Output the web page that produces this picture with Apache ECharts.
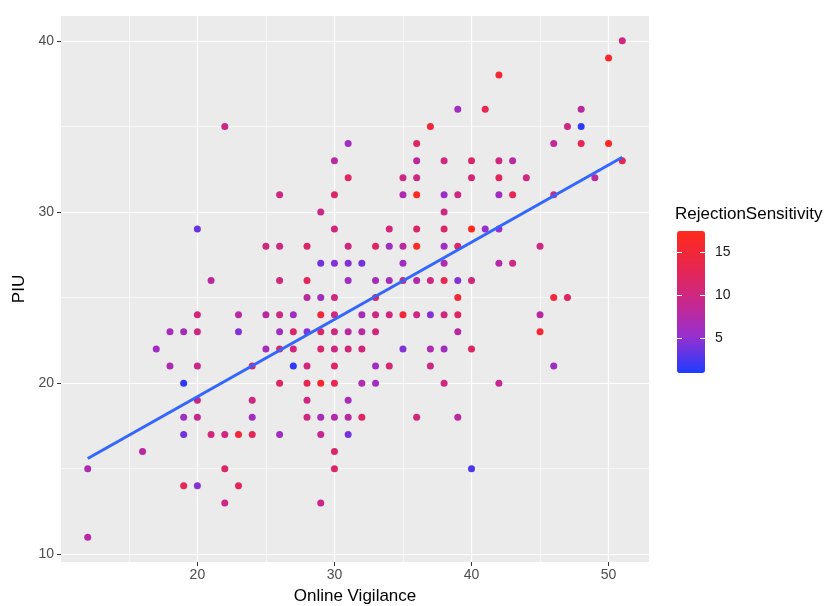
<!DOCTYPE html>
<html><head><meta charset="utf-8">
<script src="https://cdn.jsdelivr.net/npm/echarts@6/dist/echarts.min.js"></script>
<style>html,body{margin:0;padding:0;background:#fff}#c{width:835px;height:606px}</style>
</head><body><div id="c"></div>
<script>
// Online Vigilance (x), PIU (y), RejectionSensitivity (colour) - one line per PIU row
const vigilance = [
  51,
  50,
  42,
  39,41,48,
  22,37,47,48,
  31,36,46,48,50,
  30,36,38,40,42,43,51,
  31,35,36,40,42,44,49,
  26,30,35,36,38,39,42,43,46,
  29,38,
  20,30,34,36,38,40,41,42,
  25,26,28,31,33,34,35,36,38,39,45,
  29,30,31,32,35,38,42,43,
  21,26,28,31,33,34,35,36,37,38,39,40,
  28,29,30,33,39,46,47,
  20,23,25,26,27,29,30,32,33,34,35,36,37,38,39,45,
  18,19,20,23,26,27,28,29,30,31,32,33,39,45,
  17,25,26,27,29,30,31,32,35,37,38,40,
  18,20,24,27,28,30,33,34,37,46,
  19,26,28,29,30,32,33,38,42,
  20,24,28,31,
  19,20,24,28,29,30,31,32,36,39,
  19,21,22,23,24,26,29,31,
  16,30,
  12,22,30,40,
  19,20,23,
  22,29,
  12
];
const piu = [
  40,
  39,
  38,
  36,36,36,
  35,35,35,35,
  34,34,34,34,34,
  33,33,33,33,33,33,33,
  32,32,32,32,32,32,32,
  31,31,31,31,31,31,31,31,31,
  30,30,
  29,29,29,29,29,29,29,29,
  28,28,28,28,28,28,28,28,28,28,28,
  27,27,27,27,27,27,27,27,
  26,26,26,26,26,26,26,26,26,26,26,26,
  25,25,25,25,25,25,25,
  24,24,24,24,24,24,24,24,24,24,24,24,24,24,24,24,
  23,23,23,23,23,23,23,23,23,23,23,23,23,23,
  22,22,22,22,22,22,22,22,22,22,22,22,
  21,21,21,21,21,21,21,21,21,21,
  20,20,20,20,20,20,20,20,20,
  19,19,19,19,
  18,18,18,18,18,18,18,18,18,18,
  17,17,17,17,17,17,17,17,
  16,16,
  15,15,15,15,
  14,14,14,
  13,13,
  11
];
const rejection = [
  10,
  16,
  15.5,
  6,13,8,
  9.5,15,10,1.5,
  6,12,8.5,13,16.5,
  8,8,10,11.5,10,8,13,
  12,10,10,10.5,12.5,10,8,
  10,11.5,7,17,5.5,10,6,13,10,
  9.5,10,
  3.5,10.5,10.5,11.5,11.5,17,5.5,5.5,
  10,10,11.5,10,12,6,8,17,6,12,10,
  4,4.5,4.5,4,6,7,7.5,10,
  8,10,12.5,6,6.5,6.5,11,7.5,10,13,4.5,10,
  8,6,10,12.5,15,15,12,
  10.5,8,8,10,6,14.5,10,6.5,10,10,15,10,4.5,10,12,8,
  6.5,6.5,10,4.5,6,11.5,4.5,11.5,10,8,8,10.5,8,15.5,
  6,6.5,11.5,10.5,11.5,10,10.5,10.5,4.5,7,6,12,
  7,9.5,11.5,1.5,10.5,12,6,11,10,6,
  1.5,12,13,16,13,7,6,10,9,
  9.5,10,10,6.5,
  6,9,6,10,6.5,7.5,8,12,10.5,8,
  4,10.5,10,15,12.5,6,9,4,
  8,11.5,
  7,11.5,11.5,2.5,
  13,4.5,12.5,
  9.5,9.5,
  8
];
// fitted regression line end points
const fitX = [12, 51];
const fitY = [15.6, 33.2];
// axis breaks
const xMajor = [20, 30, 40, 50];
const xMinor = [15, 25, 35, 45];
const yMajor = [10, 20, 30, 40];
const yMinor = [15, 25, 35];
const xRange = [10.05, 52.95];
const yRange = [9.55, 41.45];
// colour scale
const rsRange = [1, 17.4];
const legendTicks = [5, 10, 15];
const legendTitle = 'RejectionSensitivity';

const FONT = '"Liberation Sans", Arial, Helvetica, sans-serif';
const points = vigilance.map((v, i) => [v, piu[i], rejection[i]]);
const fitLine = fitX.map((x, i) => [x, fitY[i]]);

const gridLines = [].concat(
  xMinor.map(v => ({xAxis: v, lineStyle: {width: 0.6}})),
  yMinor.map(v => ({yAxis: v, lineStyle: {width: 0.6}})),
  xMajor.map(v => ({xAxis: v, lineStyle: {width: 1.2}})),
  yMajor.map(v => ({yAxis: v, lineStyle: {width: 1.2}}))
);

const bar = {left: 677, top: 231, width: 28, height: 142};
const tickY = v => bar.top + (rsRange[1] - v) / (rsRange[1] - rsRange[0]) * bar.height;

const graphic = [
  {type: 'text', x: bar.left - 2, y: 214, z: 100,
   style: {text: legendTitle, fontSize: 17, fontFamily: FONT, fill: '#000', align: 'left', verticalAlign: 'middle'}}
];
legendTicks.forEach(v => {
  const y = Math.round(tickY(v)) + 0.5;
  graphic.push({type: 'line', z: 100, shape: {x1: bar.left, y1: y, x2: bar.left + 5, y2: y}, style: {stroke: '#fff', lineWidth: 1}});
  graphic.push({type: 'line', z: 100, shape: {x1: bar.left + bar.width - 5, y1: y, x2: bar.left + bar.width, y2: y}, style: {stroke: '#fff', lineWidth: 1}});
  graphic.push({type: 'text', z: 100, x: bar.left + bar.width + 10, y: tickY(v),
    style: {text: String(v), fontSize: 14, fontFamily: FONT, fill: '#1a1a1a', align: 'left', verticalAlign: 'middle'}});
});

const chart = echarts.init(document.getElementById('c'), null, {renderer: 'canvas'});
chart.setOption({
  animation: false,
  backgroundColor: '#fff',
  grid: {left: 61, top: 16, width: 588, height: 546, show: true, backgroundColor: '#EBEBEB', borderWidth: 0,
         containLabel: false, outerBoundsMode: 'none'},
  xAxis: {
    type: 'value', min: xRange[0], max: xRange[1],
    name: 'Online Vigilance', nameLocation: 'middle', nameGap: 26,
    nameTextStyle: {fontSize: 17, color: '#000', fontFamily: FONT},
    axisLine: {show: false},
    axisTick: {show: true, customValues: xMajor, length: 4, lineStyle: {color: '#333', width: 1}},
    axisLabel: {customValues: xMajor, margin: 6, fontSize: 14, color: '#4D4D4D', fontFamily: FONT},
    splitLine: {show: false}
  },
  yAxis: {
    type: 'value', min: yRange[0], max: yRange[1],
    name: 'PIU', nameLocation: 'middle', nameGap: 27, nameRotate: 90,
    nameTextStyle: {fontSize: 17, color: '#000', fontFamily: FONT},
    axisLine: {show: false},
    axisTick: {show: true, customValues: yMajor, length: 4, lineStyle: {color: '#333', width: 1}},
    axisLabel: {customValues: yMajor, margin: 7, fontSize: 14, color: '#4D4D4D', fontFamily: FONT},
    splitLine: {show: false}
  },
  visualMap: {
    type: 'continuous', min: rsRange[0], max: rsRange[1], dimension: 2, seriesIndex: 1,
    orient: 'vertical', left: bar.left, top: bar.top, itemWidth: bar.width, itemHeight: bar.height,
    padding: 0, calculable: false, hoverLink: false, realtime: false,
    inRange: {color: ['#1E3BFF', '#9530D0', '#C8288C', '#E8264E', '#FF2A1A']}
  },
  graphic: graphic,
  series: [
    {type: 'scatter', data: [], z: 1, silent: true,
     markLine: {z: 0, silent: true, symbol: ['none', 'none'], label: {show: false},
       lineStyle: {color: '#fff', type: 'solid'}, emphasis: {disabled: true}, animation: false, data: gridLines}},
    {type: 'scatter', data: points, z: 3, symbolSize: 7, itemStyle: {opacity: 1}},
    {type: 'line', data: fitLine, z: 4, showSymbol: false, symbol: 'none',
     lineStyle: {color: '#3366FF', width: 3}, itemStyle: {color: '#3366FF'}}
  ]
});
</script></body></html>
